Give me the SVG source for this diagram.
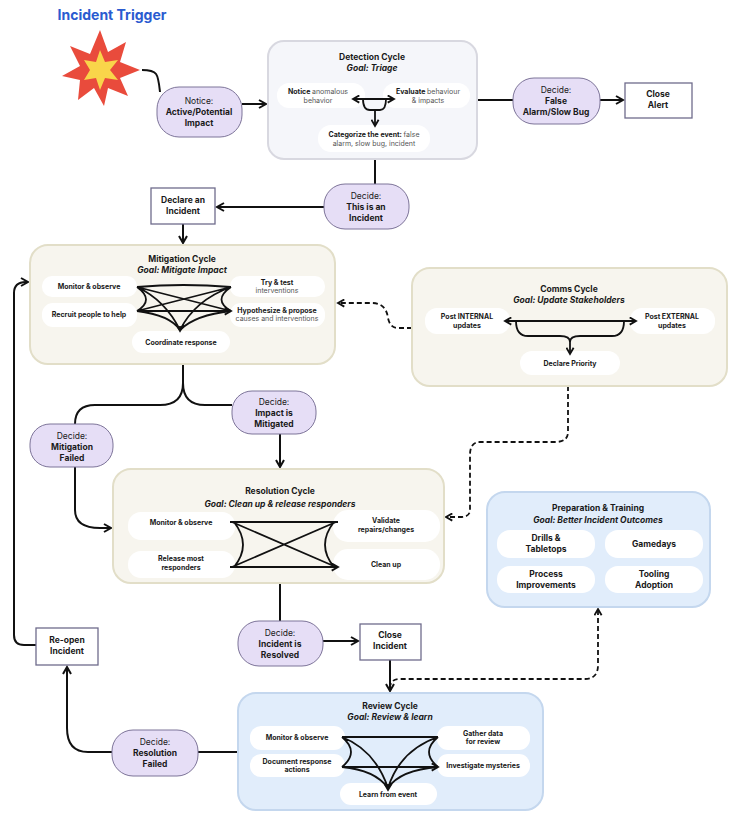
<svg xmlns="http://www.w3.org/2000/svg" width="736" height="820" viewBox="0 0 736 820">
<defs>
<marker id="ah" viewBox="0 0 10 10" refX="8" refY="5" markerWidth="5" markerHeight="5" orient="auto-start-reverse"><path d="M1,1 L8,5 L1,9" fill="none" stroke="#111" stroke-width="2"/></marker>
<style>
text{font-family:Inter,"Noto Sans",sans-serif;fill:#1a1a1a;text-anchor:middle}
.t{font-size:8.5px;font-weight:700}
.g{font-size:8.5px;font-weight:700;font-style:italic}
.s{font-size:7px;font-weight:700}
.n{font-weight:400;fill:#555}
.d{font-size:8.5px}
.dn{font-weight:400}
.db{font-weight:700}
.cycY{fill:#f7f5ee;stroke:#e2dec8;stroke-width:2}
.cycB{fill:#e1edfb;stroke:#c4d7ee;stroke-width:2}
.cycG{fill:#f5f6fa;stroke:#d8d8e0;stroke-width:2}
.pill{fill:#fff}
.dec{fill:#e6def6;stroke:#7d7499;stroke-width:1}
.box{fill:#fff;stroke:#6f6c8c;stroke-width:1.3}
.c{fill:none;stroke:#111;stroke-width:2}
.da{fill:none;stroke:#111;stroke-width:1.8;stroke-dasharray:5,3}
.x{fill:none;stroke:#111;stroke-width:1.8}
</style>
</defs>
<text x="112" y="20" style="font-size:14px;font-weight:700;fill:#2a5bd0">Incident Trigger</text>
<g id="trigger"><polygon points="100,30 108,52 126,42 120,62 140,70 120,78 128,96 108,88 104,106 94,88 78,100 80,80 62,76 80,66 70,46 90,54" fill="#e94b3c"/><polygon points="100,50 105,62 118,60 110,70 118,80 105,78 100,90 96,78 84,80 90,70 84,60 96,62" fill="#f9d54a"/></g>
<g id="connectors">
<path class="c" d="M142,70 C158,70 158,74 160,92"/>
<path class="c" d="M242,104 H266" marker-end="url(#ah)"/>
<path class="c" d="M477,100 H513"/>
<path class="c" d="M600,100 H623" marker-end="url(#ah)"/>
<path class="c" d="M375,159 V184"/>
<path class="c" d="M324,207 H217" marker-end="url(#ah)"/>
<path class="c" d="M183,224 V243" marker-end="url(#ah)"/>
<path class="c" d="M183,364 V383 Q183,405 160,405 H95 Q75,405 75,424"/>
<path class="c" d="M183,383 Q183,405 205,405 H232"/>
<path class="c" d="M280,434 V467" marker-end="url(#ah)"/>
<path class="c" d="M75,467 V510 Q75,528 100,528 H111" marker-end="url(#ah)"/>
<path class="c" d="M36,645 H24 Q14,645 14,635 V293 Q14,282 26,282 H28" marker-end="url(#ah)"/>
<path class="da" d="M412,328 H398 Q390,328 388,318 Q386,303 372,303 H338" marker-end="url(#ah)"/>
<path class="da" d="M568,386 V432 Q568,442 555,442 H480 Q470,442 470,455 V510 Q470,517 460,517 H446" marker-end="url(#ah)"/>
<path class="c" d="M280,583 V621"/>
<path class="c" d="M323,641 H358" marker-end="url(#ah)"/>
<path class="c" d="M390,660 V691" marker-end="url(#ah)"/>
<path class="da" d="M390,688 Q390,679 400,679 H585 Q598,679 598,665 V609" marker-end="url(#ah)"/>
<path class="c" d="M238,752 H198"/>
<path class="c" d="M112,752 H88 Q67,752 67,728 V667" marker-end="url(#ah)"/>
</g>
<g id="notice"><rect class="dec" x="157" y="87" width="85" height="50" rx="22"/><text class="d" y="104" x="199"><tspan class="dn">Notice:</tspan><tspan class="db" x="199" dy="11">Active/Potential</tspan><tspan class="db" x="199" dy="11">Impact</tspan></text></g>
<g id="detection">
<rect class="cycG" x="268" y="41" width="209" height="118" rx="16"/>
<text class="t" x="372" y="60">Detection Cycle</text><text class="g" x="372" y="71">Goal: Triage</text>
<rect class="pill" x="277" y="83" width="88" height="25" rx="12"/><text class="s" x="318" y="94">Notice <tspan class="n">anomalous</tspan><tspan class="n" x="318" dy="9">behavior</tspan></text>
<rect class="pill" x="383" y="83" width="87" height="25" rx="12"/><text class="s" x="428" y="94">Evaluate <tspan class="n">behaviour</tspan><tspan class="n" x="428" dy="9">&amp; impacts</tspan></text>
<rect class="pill" x="318" y="125" width="112" height="27" rx="13"/><text class="s" x="374" y="137">Categorize the event: <tspan class="n">false</tspan><tspan class="n" x="374" dy="9">alarm, slow bug, incident</tspan></text>
<path class="x" d="M353,99 H394" marker-start="url(#ah)" marker-end="url(#ah)"/>
<path class="x" d="M363,99 Q363,110 370,110 H380 Q386,110 386,99 M375,110 V126" marker-end="url(#ah)"/>
</g>
<g id="decide-false"><rect class="dec" x="513" y="78" width="87" height="46" rx="21"/><text class="d" x="556" y="93"><tspan class="dn">Decide:</tspan><tspan class="db" x="556" dy="11">False</tspan><tspan class="db" x="556" dy="11">Alarm/Slow Bug</tspan></text></g>
<g id="close-alert"><rect class="box" x="625" y="83" width="67" height="35"/><text class="t" x="658" y="97">Close<tspan x="658" dy="11">Alert</tspan></text></g>
<g id="decide-incident"><rect class="dec" x="324" y="184" width="85" height="45" rx="21"/><text class="d" x="366" y="199"><tspan class="dn">Decide:</tspan><tspan class="db" x="366" dy="11">This is an</tspan><tspan class="db" x="366" dy="11">Incident</tspan></text></g>
<g id="declare"><rect class="box" x="151" y="188" width="64" height="36"/><text class="t" x="183" y="203">Declare an<tspan x="183" dy="11">Incident</tspan></text></g>
<g id="mitigation">
<rect class="cycY" x="30" y="245" width="305" height="119" rx="18"/>
<text class="t" x="182" y="262">Mitigation Cycle</text><text class="g" x="182" y="273">Goal: Mitigate Impact</text>
<rect class="pill" x="42" y="276" width="95" height="21" rx="10"/><text class="s" x="89" y="289">Monitor &amp; observe</text>
<rect class="pill" x="230" y="276" width="95" height="21" rx="10"/><text class="s" x="277" y="285">Try &amp; test<tspan class="n" x="277" dy="8">interventions</tspan></text>
<rect class="pill" x="42" y="303" width="95" height="24" rx="11"/><text class="s" x="89" y="317">Recruit people to help</text>
<rect class="pill" x="230" y="303" width="95" height="24" rx="11"/><text class="s" x="277" y="313">Hypothesize &amp; propose<tspan class="n" x="277" dy="8">causes and interventions</tspan></text>
<rect class="pill" x="132" y="331" width="98" height="22" rx="11"/><text class="s" x="181" y="345">Coordinate response</text>
<path class="x" d="M137,287 Q183,283 231,287 M137,311 H231 M137,287 L231,311 M137,311 L231,287 M137,287 Q155,300 137,311 M231,287 Q212,300 231,311 M137,287 Q165,300 180,330 M231,287 Q195,300 180,330 M137,311 Q170,315 180,330 M231,311 Q195,315 180,330"/>
<path class="x" d="M140,287 H137 M228,287 H231 M140,311 H137 M228,311 H231" marker-end="url(#ah)"/>
<path class="x" d="M180,326 V331" marker-end="url(#ah)"/>
</g>
<g id="comms">
<rect class="cycY" x="412" y="268" width="315" height="118" rx="18"/>
<text class="t" x="569" y="292">Comms Cycle</text><text class="g" x="569" y="303">Goal: Update Stakeholders</text>
<rect class="pill" x="425" y="308" width="85" height="26" rx="12"/><text class="s" x="467" y="319">Post INTERNAL<tspan x="467" dy="9">updates</tspan></text>
<rect class="pill" x="630" y="308" width="85" height="26" rx="12"/><text class="s" x="672" y="319">Post EXTERNAL<tspan x="672" dy="9">updates</tspan></text>
<rect class="pill" x="520" y="351" width="100" height="24" rx="12"/><text class="s" x="570" y="366">Declare Priority</text>
<path class="x" d="M505,321 H636" marker-start="url(#ah)" marker-end="url(#ah)"/>
<path class="x" d="M516,321 Q516,336 528,336 H560 Q570,336 570,342 Q570,336 580,336 H612 Q624,336 624,321 M570,340 V354" marker-end="url(#ah)"/>
</g>
<g id="mitigation-failed"><rect class="dec" x="30" y="424" width="83" height="43" rx="20"/><text class="d" x="72" y="439"><tspan class="dn">Decide:</tspan><tspan class="db" x="72" dy="11">Mitigation</tspan><tspan class="db" x="72" dy="11">Failed</tspan></text></g>
<g id="impact-mitigated"><rect class="dec" x="232" y="391" width="84" height="43" rx="20"/><text class="d" x="274" y="405"><tspan class="dn">Decide:</tspan><tspan class="db" x="274" dy="11">Impact is</tspan><tspan class="db" x="274" dy="11">Mitigated</tspan></text></g>
<g id="resolution">
<rect class="cycY" x="113" y="469" width="331" height="114" rx="18"/>
<text class="t" x="280" y="494">Resolution Cycle</text><text class="g" x="280" y="507">Goal: Clean up &amp; release responders</text>
<rect class="pill" x="128" y="512" width="107" height="28" rx="13"/><text class="s" x="181" y="549" dy="-24">Monitor &amp; observe</text>
<rect class="pill" x="333" y="510" width="107" height="32" rx="15"/><text class="s" x="386" y="523">Validate<tspan x="386" dy="9">repairs/changes</tspan></text>
<rect class="pill" x="128" y="551" width="107" height="27" rx="13"/><text class="s" x="181" y="561">Release most<tspan x="181" dy="9">responders</tspan></text>
<rect class="pill" x="333" y="549" width="107" height="31" rx="15"/><text class="s" x="386" y="567">Clean up</text>
<path class="x" d="M230,522 H338 M230,567 H338 M232,522 L336,567 M232,567 L336,522 M234,522 Q252,545 234,567 M334,522 Q316,545 334,567"/>
<path class="x" d="M233,522 H230 M335,522 H338 M233,567 H230 M335,567 H338" marker-end="url(#ah)"/>
</g>
<g id="preparation">
<rect class="cycB" x="487" y="492" width="223" height="115" rx="18"/>
<text class="t" x="598" y="511">Preparation &amp; Training</text><text class="g" x="598" y="523">Goal: Better Incident Outcomes</text>
<rect class="pill" x="497" y="530" width="98" height="28" rx="13"/><text class="t" x="546" y="541">Drills &amp;<tspan x="546" dy="11">Tabletops</tspan></text>
<rect class="pill" x="605" y="530" width="98" height="28" rx="13"/><text class="t" x="654" y="547">Gamedays</text>
<rect class="pill" x="497" y="566" width="98" height="27" rx="13"/><text class="t" x="546" y="577">Process<tspan x="546" dy="11">Improvements</tspan></text>
<rect class="pill" x="605" y="566" width="98" height="27" rx="13"/><text class="t" x="654" y="577">Tooling<tspan x="654" dy="11">Adoption</tspan></text>
</g>
<g id="reopen"><rect class="box" x="36" y="628" width="62" height="37"/><text class="t" x="67" y="643">Re-open<tspan x="67" dy="11">Incident</tspan></text></g>
<g id="incident-resolved"><rect class="dec" x="238" y="621" width="85" height="45" rx="21"/><text class="d" x="280" y="636"><tspan class="dn">Decide:</tspan><tspan class="db" x="280" dy="11">Incident is</tspan><tspan class="db" x="280" dy="11">Resolved</tspan></text></g>
<g id="close-incident"><rect class="box" x="360" y="624" width="61" height="36"/><text class="t" x="390" y="638">Close<tspan x="390" dy="11">Incident</tspan></text></g>
<g id="resolution-failed"><rect class="dec" x="112" y="730" width="86" height="46" rx="21"/><text class="d" x="155" y="745"><tspan class="dn">Decide:</tspan><tspan class="db" x="155" dy="11">Resolution</tspan><tspan class="db" x="155" dy="11">Failed</tspan></text></g>
<g id="review">
<rect class="cycB" x="238" y="693" width="305" height="117" rx="18"/>
<text class="t" x="390" y="709">Review Cycle</text><text class="g" x="390" y="720">Goal: Review &amp; learn</text>
<rect class="pill" x="250" y="726" width="95" height="24" rx="11"/><text class="s" x="297" y="740">Monitor &amp; observe</text>
<rect class="pill" x="437" y="726" width="93" height="24" rx="11"/><text class="s" x="483" y="736">Gather data<tspan x="483" dy="8">for review</tspan></text>
<rect class="pill" x="250" y="754" width="95" height="23" rx="11"/><text class="s" x="297" y="764">Document response<tspan x="297" dy="8">actions</tspan></text>
<rect class="pill" x="437" y="754" width="93" height="23" rx="11"/><text class="s" x="483" y="768">Investigate mysteries</text>
<rect class="pill" x="340" y="783" width="97" height="22" rx="11"/><text class="s" x="388" y="797">Learn from event</text>
<path class="x" d="M342,737 H438 M342,767 H438 M342,737 Q360,752 342,767 M438,737 Q420,752 438,767 M342,737 Q375,750 388,788 M438,737 Q400,750 388,788 M342,767 Q375,770 388,788 M438,767 Q400,770 388,788"/>
<path class="x" d="M345,737 H342 M435,737 H438 M345,767 H342 M435,767 H438" marker-end="url(#ah)"/>
<path class="x" d="M388,784 V790" marker-end="url(#ah)"/>
</g>
</svg>
